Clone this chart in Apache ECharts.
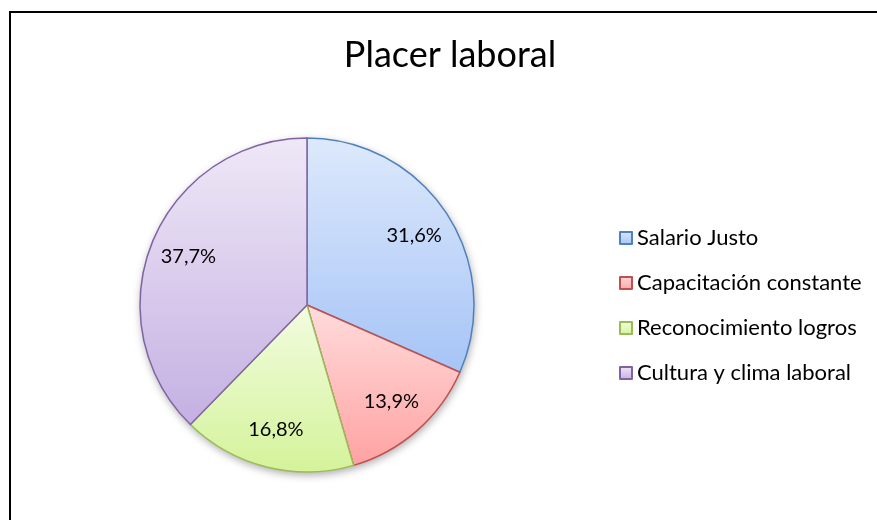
<!DOCTYPE html>
<html>
<head>
<meta charset="utf-8">
<script src="https://cdn.jsdelivr.net/npm/echarts@6/dist/echarts.min.js"></script>
<style>html,body{margin:0;padding:0;background:#fff}#c{width:877px;height:520px}</style>
</head>
<body>
<div id="c"></div>
<script>
const titleText = 'Placer laboral';
const categories = ['Salario Justo', 'Capacitación constante', 'Reconocimiento logros', 'Cultura y clima laboral'];
const values = [31.6, 13.9, 16.8, 37.7];
const edgeColors = ['#4f81bd', '#c0504d', '#9bbb59', '#8064a2'];
const topColors = ['#dde9fc', '#ffdcdc', '#f2fce0', '#efe8f7'];
const bottomColors = ['#a6c4f6', '#ffa2a2', '#d4f39a', '#c4b0e2'];

const FONT = 'Lato, "Open Sans", sans-serif';
const chart = echarts.init(document.getElementById('c'));

const pieData = categories.map((n, i) => ({
  name: n,
  value: values[i],
  itemStyle: {
    color: new echarts.graphic.LinearGradient(0, 0, 0, 1, [
      { offset: 0, color: topColors[i] },
      { offset: 1, color: bottomColors[i] }
    ]),
    borderColor: edgeColors[i],
    borderWidth: 1.5
  }
}));

const fmt = p => p.value.toFixed(1).replace('.', ',') + '%';

chart.setOption({
  animation: false,
  backgroundColor: '#fff',
  title: {
    text: titleText,
    left: 450,
    textAlign: 'center',
    top: 37,
    padding: 0,
    textStyle: { fontFamily: FONT, fontWeight: 'normal', fontSize: 36, color: '#000' }
  },
  legend: {
    data: categories,
    orient: 'vertical',
    left: 619,
    top: 227,
    padding: 0,
    icon: 'rect',
    itemWidth: 12,
    itemHeight: 12,
    itemGap: 23,
    textStyle: { fontFamily: FONT, fontSize: 22, color: '#000', lineHeight: 22 },
    selectedMode: false
  },
  graphic: [{
    type: 'rect',
    shape: { x: 10, y: 12, width: 1000, height: 700 },
    style: { fill: 'none', stroke: '#000', lineWidth: 2 },
    silent: true, z: 100
  }],
  series: [
    {
      type: 'pie', silent: true, z: 1,
      center: [307, 305], radius: [0, 167],
      startAngle: 90, clockwise: true,
      label: { show: false }, labelLine: { show: false },
      itemStyle: { color: '#fff', shadowBlur: 8, shadowColor: 'rgba(0,0,0,0.35)', shadowOffsetX: 1, shadowOffsetY: 3 },
      data: [{ name: '__shadow', value: 1 }]
    },
    {
      type: 'pie', z: 2,
      center: [307, 305], radius: [0, 167],
      startAngle: 90, clockwise: true,
      label: { show: false }, labelLine: { show: false },
      emphasis: { disabled: true },
      data: pieData
    },
    {
      type: 'pie', z: 3, silent: true,
      center: [307, 305], radius: [0, 250],
      startAngle: 90, clockwise: true,
      itemStyle: { color: 'rgba(0,0,0,0)', borderWidth: 0 },
      label: { show: true, position: 'inside', formatter: fmt, fontFamily: FONT, fontSize: 20, color: '#000' },
      labelLine: { show: false },
      emphasis: { disabled: true },
      data: categories.map((n, i) => ({ name: n, value: values[i] }))
    }
  ]
});
</script>
</body>
</html>
